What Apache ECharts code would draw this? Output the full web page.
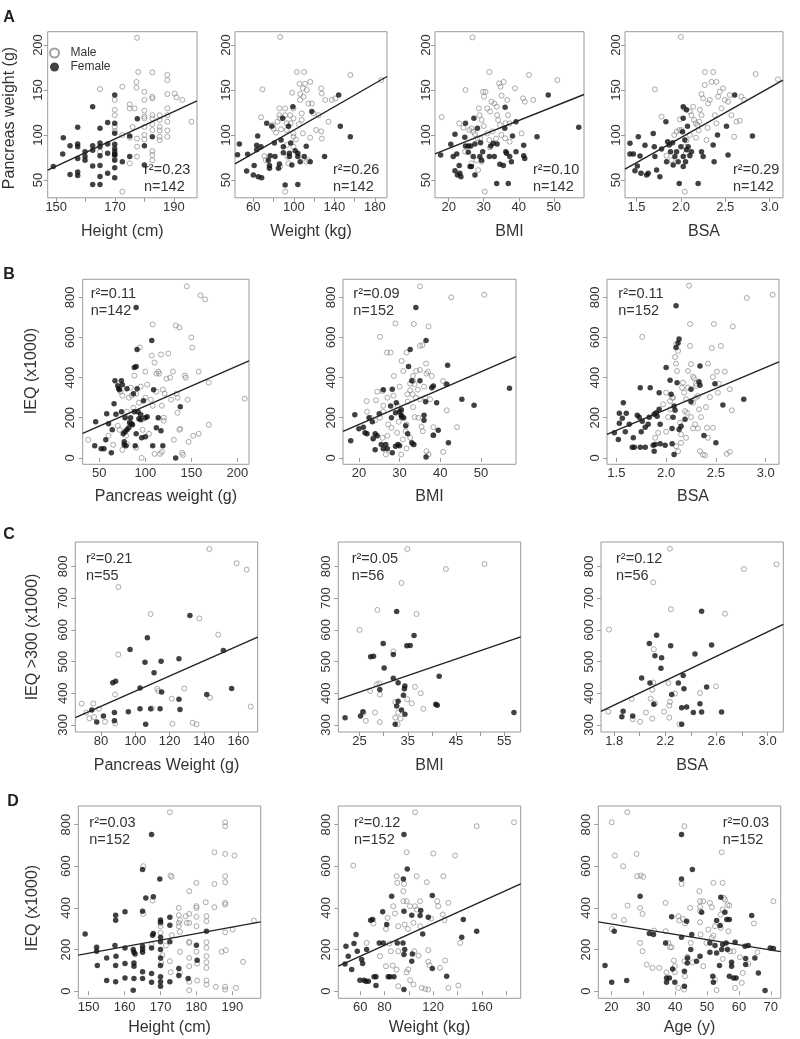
<!DOCTYPE html>
<html><head><meta charset="utf-8">
<script src="https://cdn.jsdelivr.net/npm/echarts@6/dist/echarts.min.js"></script>
<style>html,body{margin:0;padding:0;background:#fff}#c{width:800px;height:1039px}</style>
</head><body><div id="c"></div>
<script>
// ---------- DATA ----------
// Row A: pancreas weight (g) vs height / weight / BMI / BSA
const a1Female=[[149,65],[152.2,79],[152.4,97],[154.7,56],[154.7,88],[157.3,108.5],[157.3,90],[157.3,87],[157.3,74],[157.3,59],[157.3,55],[159.8,81.5],[159.8,76],[159.8,72],[162.4,131.5],[162.4,83],[162.4,65.5],[162.4,45],[162.4,88],[164.9,107.5],[164.9,87],[164.9,77],[164.9,66],[164.9,54],[164.9,45],[164.9,91],[167.5,114],[167.5,90],[167.5,79.6],[167.5,57.4],[169.9,85],[169.9,77.6],[169.9,144.4],[169.9,113],[169.9,102],[169.9,89.6],[169.9,81.5],[169.9,78.5],[169.9,72],[169.9,63.7],[169.9,52.6],[172.5,70.4],[175,99],[175,76],[177.6,118],[180,88],[180,66.7],[182.7,98]];
const a1Male=[[177.5,208],[177.9,170],[182.7,169.6],[187.8,166.7],[187.8,161],[172.5,153.7],[164.9,151],[169.9,139],[169.9,128],[169.9,122],[169.9,109],[169.9,104.4],[175,134],[175,129.6],[176,109],[176.7,129.6],[177.3,159],[177.3,152.6],[180,148],[180,139],[180,120.4],[180,118.5],[180,109],[182.7,142.6],[182.7,140.7],[182.7,122],[182.7,118.5],[182.7,105.5],[182.7,82],[182.7,77.8],[182.7,72],[185.2,122],[185.2,109],[185.2,98],[185.2,94.4],[187.8,145.5],[187.8,129.6],[187.8,122],[187.8,114.8],[187.8,98],[190.3,146],[190.9,141.9],[192.9,139],[196,114.8],[172.5,37],[177.5,87],[177.5,76],[175,68.5],[185.2,116.7],[169.9,74],[164.9,81.5],[180,95],[180,100],[177.5,96],[182.7,112],[185.2,105],[175,97],[172.5,100],[187.8,105],[180,127]];
const a1Line=[[147.1,61],[197.9,138]];
const a1Stat=['0.23',142];

const a2Female=[[44.5,78],[46.3,90],[53.5,60],[54.5,78.5],[60.9,66],[60.1,55.5],[63.4,88.5],[63.4,83.7],[64.4,99],[65,53.7],[68.3,52.6],[67.7,87],[73.3,113],[74.9,72],[76,66],[76,63],[76.7,77],[78.3,109.6],[80.9,91],[81.5,76],[84.9,63],[85.8,67.8],[87.5,94.4],[89.1,118.5],[89.7,87],[89.7,80.4],[91.5,44.4],[94.8,109.6],[95.7,79.6],[95.7,76],[97,91],[98.1,66.7],[99.1,131.5],[101.4,82.5],[104,79.6],[104,76],[104,45],[106.3,70.4],[110.3,76],[112.3,87.4],[116.2,70.4],[117.8,126],[130.4,76],[144.3,144.4],[145.9,109.6],[155.8,98]];
const a2Male=[[86.5,209],[67.7,119.6],[69.1,150.7],[71,76.7],[72.3,72],[79.2,111],[80,107],[82.5,102.6],[83.9,114.8],[85.8,129.6],[85.8,122],[86.5,118.5],[87.5,106.3],[91.5,129.6],[91.5,122],[93.1,113],[93.1,105.5],[93.1,88.9],[93.7,76],[94.8,68.5],[96.4,122],[97,113],[98.4,147],[99.7,129.6],[99.7,118.5],[99.7,101.8],[99.7,98],[103,170],[105.7,157],[106.3,145.5],[106.3,139],[107.9,124],[107.9,116.7],[109,151.9],[109.6,142.6],[109,101.8],[110.3,170],[111.2,157],[112.9,150],[114.5,135],[116.2,159],[117.8,135],[119.5,124],[116.2,97],[122.1,105.5],[124.4,122],[127.1,151.9],[127.7,146],[127.1,104],[131,139],[134.3,114.8],[127.7,96],[137.6,139],[141,140.7],[155.8,166.7],[186.4,161],[112.3,70.4],[114.4,72],[86.6,65],[91.5,37],[99.7,87],[105,112],[102,95]];
const a2Line=[[42,68],[192,165]];
const a2Stat=['0.26',142];

const a3Female=[[17.7,77.8],[20.6,89.6],[21.8,100.7],[21.3,76],[22.3,79],[21.8,60.4],[22.5,55.6],[23,66],[23.2,57.4],[23.5,53.7],[24.8,113],[24.6,97.4],[24.8,87.8],[25.6,87.8],[26.3,87.8],[25.6,80.7],[26.1,65],[26.5,65],[27,76],[27.2,118.5],[27.5,90],[27.5,55.6],[28.2,107.4],[28.9,76],[29.1,91.5],[29.4,72],[29.7,81.5],[31.6,76],[32,87.8],[32.7,90.7],[33,76],[33.7,46],[33.8,90],[34.6,67.4],[35.6,66],[36.1,130.7],[36,107.4],[36.3,81.5],[36.5,79.6],[37,46],[37.4,76],[37.9,70.4],[38.2,99],[39.2,81.5],[39.2,114.8],[41.4,88.5],[41.4,77],[41.7,74],[45.2,98],[48.4,144.4],[57.1,108.5]];
const a3Male=[[26.8,208.5],[24.8,150],[18,120],[23,113],[24.2,108],[24.7,81.5],[25.9,105.5],[26.5,107.4],[27,103.7],[28.2,96.3],[28.6,129.6],[28.8,122],[29.4,116.7],[29.8,148],[30.1,142.6],[30.5,148],[31.6,170],[31,129.6],[31.8,126],[32.2,137],[33,135],[33.7,131.5],[33.8,122],[34.1,116.7],[34.6,111],[34.4,157.4],[34.8,153.7],[35.1,143.7],[35.7,159],[36.1,96.3],[36.7,139],[36.9,122],[37.4,113],[38.9,151.9],[37.4,92.6],[40.8,101.8],[41.2,140.7],[41.7,137],[42.9,166.7],[44.1,139],[51,161],[30.3,37],[28,72],[29.4,70.4],[31,101.8],[31.6,94.4],[31.8,86.3],[26.5,68.5],[28.4,61],[30,110],[32.5,104],[33.5,96],[35,100],[36.2,113],[29,96],[27.5,101]];
const a3Line=[[16.1,79],[58.6,145]];
const a3Stat=['0.10',142];

const a4Female=[[1.426,90.7],[1.426,78.9],[1.464,78.9],[1.482,60.4],[1.509,65.6],[1.52,98],[1.539,76.7],[1.55,57.4],[1.595,88.5],[1.614,55.6],[1.632,57.4],[1.688,101.8],[1.7,87],[1.707,76],[1.726,61],[1.763,53.7],[1.782,84.4],[1.831,114.8],[1.838,70.4],[1.85,92.6],[1.868,89],[1.883,81.5],[1.906,91.5],[1.913,66.7],[1.932,76],[1.951,81.5],[1.969,70.4],[1.981,46],[2.0,87],[2.018,103.7],[2.026,118.5],[2.026,131.5],[2.026,76],[2.026,65],[2.044,94.4],[2.063,83.7],[2.052,70.4],[2.063,128],[2.074,109.6],[2.082,87],[2.101,77],[2.119,81.5],[2.194,46],[2.232,81.5],[2.25,76],[2.363,89],[2.374,70.4],[2.412,100],[2.513,109.6],[2.531,77.8],[2.606,144.4],[2.805,99]];
const a4Male=[[2.0,209],[1.707,150.7],[1.782,120.4],[1.838,77],[1.895,72],[1.925,100],[1.951,103.7],[1.981,105.5],[1.988,117.4],[2.037,129.6],[2.044,37],[2.063,94],[2.101,126],[2.119,122],[2.138,131.5],[2.149,116.7],[2.168,113],[2.187,111],[2.206,114.8],[2.213,128],[2.232,122],[2.232,145.5],[2.25,140.7],[2.269,170],[2.269,155.5],[2.288,94.4],[2.307,135],[2.325,139],[2.344,159],[2.363,170],[2.382,122],[2.4,159],[2.419,142.6],[2.438,148],[2.457,129.6],[2.475,151.9],[2.494,139],[2.531,137],[2.55,144.4],[2.569,122],[2.599,98],[2.625,114.8],[2.663,115.9],[2.681,142.6],[2.711,139],[2.842,167.8],[3.093,161.9],[2.044,87],[2.056,80],[2.007,105.5],[2.1,100],[2.17,97],[2.3,108],[2.4,113],[2.2,105]];
const a4Line=[[1.37,62],[3.15,161]];
const a4Stat=['0.29',142];

// Row B: IEQ (x1000) vs pancreas weight / BMI / BSA
const b1Female=[[45,60],[46,180],[52,45],[55,45],[57,90],[58,220],[60,170],[63,25],[64,140],[66,270],[68,218],[67,385],[70,360],[71,345],[72,340],[74,385],[75,365],[74,230],[76,120],[77,80],[77,65],[78,130],[78,200],[79,60],[80,140],[80,345],[82,150],[83,175],[84,200],[85,170],[86,165],[87,320],[88,450],[88,230],[89,60],[90,455],[90,120],[91,540],[91,345],[92,230],[93,195],[95,190],[95,215],[96,100],[98,285],[100,105],[100,200],[102,205],[107,585],[108,60],[109,340],[112,150],[114,200],[117,135],[119,60],[133,0],[138,255],[90,750]];
const b1Male=[[38,90],[60,110],[65,65],[70,160],[72,140],[75,40],[78,205],[79,110],[80,70],[82,300],[84,350],[85,310],[87,250],[88,410],[90,320],[90,50],[92,230],[93,275],[94,550],[95,355],[96,0],[97,140],[98,195],[100,300],[100,430],[102,365],[104,120],[106,290],[107,510],[108,260],[108,665],[110,475],[110,20],[112,330],[112,420],[114,430],[115,420],[116,20],[117,515],[118,30],[118,260],[119,340],[120,200],[120,185],[121,320],[123,395],[125,520],[127,400],[128,290],[130,430],[131,90],[133,660],[134,320],[135,300],[135,225],[137,650],[137,140],[138,145],[140,25],[141,15],[143,410],[144,400],[145,855],[146,290],[147,80],[150,600],[151,550],[152,110],[158,120],[158,430],[160,810],[165,790],[169,375],[169,165],[208,295],[73,330],[75,310],[80,230],[83,180]];
const b1Line=[[31.9,122],[212.7,483]];
const b1Stat=['0.11',142];

const b2Female=[[18,85],[19,215],[21.1,153],[21.5,125],[23.3,180],[20,145],[22,120],[22.5,200],[23.5,95],[24,120],[24.5,110],[25.5,67],[26.6,67],[28.2,25],[29,58],[29.6,67],[27.8,258],[28.2,342],[25,220],[26,340],[27,45],[28,200],[29,225],[29.2,275],[30,230],[30.5,205],[31,200],[30.4,213],[30.4,240],[32.2,455],[32.6,540],[33,385],[35,385],[36.5,585],[34,750],[37.9,350],[38.3,358],[39.1,275],[36.4,280],[41.6,367],[45.3,292],[48.3,262],[57,347],[41.8,462],[42,75],[39.5,138],[38.3,113],[36.5,5],[36,188],[36,212],[33.5,67],[33,75],[31.5,160],[32,120],[26,45],[24,40],[30,60]];
const b2Male=[[24,187],[21.9,283],[24.2,287],[25.2,603],[25.8,333],[26,260],[28.6,408],[26.9,525],[27.8,525],[29,670],[26.6,17],[23.6,100],[25.8,100],[29.4,125],[27.2,167],[25.2,200],[22.9,200],[30.5,483],[30.9,433],[30.4,233],[30.7,200],[30.8,92],[31.5,133],[30.4,17],[31.7,47],[35,855],[42.7,800],[50.8,813],[33.5,667],[37.1,655],[35,558],[35.6,562],[31.7,525],[34.1,433],[35,438],[36.6,420],[37.9,408],[33.3,408],[33.3,383],[33.7,367],[32.6,370],[32.6,337],[31.9,317],[33.2,317],[40.7,383],[41.4,367],[41.6,237],[44.1,153],[40.7,30],[37.1,17],[36.6,33],[34.6,200],[33.7,203],[35.4,155],[38.3,153],[38.3,113],[35.7,133],[33.3,67],[32.6,100],[31.7,167],[33.3,253],[35,292],[36.3,300],[37.5,292],[27,300],[28.5,310],[29.5,260],[28,150],[27,110],[29.8,180],[32,280],[34,300],[26,230],[22,230],[24.5,330],[30,355],[34.5,340],[36,355],[37,430],[36.5,470]];
const b2Line=[[16.1,132],[58.6,505]];
const b2Stat=['0.09',152];

const b3Female=[[1.48,125],[1.52,92],[1.53,172],[1.53,222],[1.56,197],[1.57,275],[1.59,130],[1.6,222],[1.63,167],[1.66,53],[1.67,100],[1.68,53],[1.71,213],[1.73,203],[1.74,53],[1.74,350],[1.75,130],[1.76,183],[1.79,53],[1.79,153],[1.82,167],[1.83,203],[1.84,350],[1.87,63],[1.88,33],[1.88,217],[1.89,67],[1.9,225],[1.91,208],[1.93,325],[1.93,242],[1.94,70],[1.94,167],[1.99,63],[2.0,450],[2.04,387],[2.05,317],[2.06,147],[2.06,70],[2.07,203],[2.08,17],[2.08,258],[2.09,237],[2.1,758],[2.1,550],[2.11,375],[2.12,572],[2.13,592],[2.13,142],[2.15,158],[2.19,192],[2.25,342],[2.25,280],[2.33,380],[2.34,362],[2.34,458],[2.38,112],[2.49,370],[2.5,75],[2.57,263],[2.78,292]];
const b3Male=[[1.76,603],[2.04,242],[2.04,283],[2.06,300],[2.09,503],[2.1,567],[2.1,470],[2.11,433],[2.12,533],[2.14,175],[2.15,117],[2.15,75],[2.17,375],[2.18,325],[2.19,233],[2.2,292],[2.2,100],[2.21,225],[2.22,433],[2.23,858],[2.24,558],[2.24,667],[2.25,203],[2.27,405],[2.27,147],[2.28,397],[2.29,167],[2.3,370],[2.3,358],[2.32,147],[2.32,308],[2.34,33],[2.35,203],[2.37,17],[2.39,12],[2.4,253],[2.42,470],[2.44,303],[2.46,547],[2.47,403],[2.48,667],[2.51,430],[2.55,558],[2.59,430],[2.61,20],[2.64,30],[2.64,342],[2.66,237],[2.67,655],[2.81,797],[3.07,813],[2.0,130],[2.02,203],[2.07,300],[2.1,58],[2.12,33],[1.92,125],[1.97,267],[2.0,325],[1.89,100],[2.22,350],[2.25,467],[2.27,275],[2.3,300],[2.33,242],[2.41,150],[2.42,100],[2.47,150],[2.52,325],[2.53,370],[2.16,350]];
const b3Line=[[1.406,117],[3.134,478]];
const b3Stat=['0.11',152];

// Row C: IEQ >300 (x1000) vs pancreas weight / BMI / BSA
const c1Female=[[74.6,347],[77.5,309],[81.4,328],[86.8,433],[88.5,438],[87.8,339],[87.8,313],[95.9,342],[96.9,538],[102.7,417],[102.7,351],[105.6,498],[106,302],[107,575],[108.9,351],[110.9,465],[115,501],[115.3,404],[114.4,351],[125.4,509],[125.4,381],[126,349],[131.8,645],[141.6,396],[151.3,535],[156.1,415]];
const c1Male=[[68.7,367],[71.3,339],[73.2,321],[75.5,368],[75.9,325],[78.8,351],[82.3,310],[88.2,396],[88.2,305],[90.1,522],[90.1,735],[108.9,650],[109.7,352],[112.8,414],[113.4,407],[121.2,383],[121.6,304],[128.5,415],[133.4,307],[135.7,302],[137.3,636],[143.1,855],[143.5,386],[148.3,585],[159,810],[164.9,790],[167.2,358]];
const c1Line=[[65,323],[171.3,577]];
const c1Stat=['0.21',55];

const c2Female=[[22,323],[25.2,328],[25.7,342],[27.3,515],[27.9,517],[29.9,557],[30.1,480],[29.2,412],[32,522],[32,447],[32.7,658],[32.4,302],[33,433],[33,375],[32.7,360],[33.7,347],[34.4,423],[34.3,414],[34.1,394],[34.4,334],[34.8,550],[35.5,551],[36.3,582],[41.5,454],[40.8,365],[41.1,362],[57,339]];
const c2Male=[[25,600],[25.8,339],[26.3,313],[27.2,407],[28.6,428],[29.1,431],[29.2,396],[28.2,339],[29.2,309],[28.7,663],[32,532],[32.4,372],[33,339],[32.4,323],[32.9,302],[34.9,855],[33.7,748],[36.8,650],[36.5,420],[37.7,400],[38.2,351],[34.9,381],[35.8,368],[42.9,792],[50.9,808],[33.5,320]];
const c2Line=[[20.6,381],[58.4,578]];
const c2Stat=['0.05',56];

const c3Female=[[1.86,326],[1.87,343],[1.945,328],[2.015,448],[2.075,557],[2.132,583],[2.119,518],[2.171,512],[2.166,479],[2.08,432],[2.11,365],[2.242,550],[2.302,432],[2.34,456],[2.346,414],[2.328,354],[2.367,357],[2.25,396],[2.328,302],[2.419,339],[2.471,367],[2.484,341],[2.523,420],[2.562,552],[2.64,341],[2.432,524],[2.484,659]];
const c3Male=[[1.76,601],[1.754,342],[1.937,382],[1.945,318],[2.002,310],[2.049,339],[2.085,383],[2.098,320],[2.106,434],[2.11,539],[2.098,411],[2.106,750],[2.119,368],[2.19,342],[2.224,432],[2.231,361],[2.236,373],[2.231,323],[2.236,856],[2.244,665],[2.276,399],[2.31,302],[2.471,401],[2.596,422],[2.667,651],[2.815,792],[3.07,807]];
const c3Line=[[1.697,343],[3.123,617]];
const c3Stat=['0.12',56];

// Row D: IEQ (x1000) vs height / weight / age
const d1Female=[[149,275],[152.2,211],[152.2,192],[152.4,123],[155,160],[155,51],[157.3,219],[157.5,365],[157.5,341],[157.6,168],[157.5,123],[157.5,45],[160.1,381],[160.1,208],[160.1,133],[160.1,64],[162.4,200],[162.6,187],[162.9,179],[162.6,136],[162.6,120],[162.6,61],[162.4,5],[165,584],[165,384],[165,216],[165,200],[165,187],[165,94],[165,61],[165.9,448],[167.5,752],[167.8,269],[168,277],[168,453],[167.5,208],[167.5,85],[167.5,43],[169.8,539],[170,342],[170,331],[170,259],[170,237],[170,200],[170,160],[170,123],[170,69],[170,45],[170,24],[172.6,355],[172.6,317],[172.6,237],[172.6,45],[175.1,109],[175.1,75],[177.7,61],[180,221],[180.2,149],[182.8,288]];
const d1Male=[[172.6,859],[165.2,600],[165.2,371],[167.8,435],[170,325],[170,312],[170,280],[170.5,173],[170.2,136],[171.5,219],[172.8,555],[173.1,549],[173.1,269],[172.8,91],[175.1,400],[175.1,365],[175.4,341],[175.1,328],[175.4,285],[175.4,189],[175.4,88],[177,360],[177.3,328],[178,480],[178,371],[178,328],[178,237],[178,232],[178,160],[178,120],[178,45],[178,5],[180,520],[180,408],[180,400],[180,357],[180,312],[180,189],[180.2,133],[180.2,51],[182.6,427],[182.8,360],[182.8,336],[182.8,235],[182.8,208],[182.8,168],[182.8,139],[182.8,112],[182.8,51],[182.8,32],[185,515],[185,403],[185,667],[185.4,21],[187,189],[188,811],[188,792],[188,659],[188,552],[188,523],[188,424],[188,416],[188,283],[188.2,197],[188,21],[188,8],[190.1,296],[190.6,651],[191,16],[193,141],[196,339],[167.5,224],[172.6,144],[175.1,312]];
const d1Line=[[147.1,173],[197.9,333]];
const d1Stat=['0.03',152];

const d2Female=[[47.5,131],[48.3,216],[50.2,168],[53,104],[54.9,229],[56.6,272],[57.6,192],[59.8,53],[61.2,152],[62,133],[63.1,53],[64.7,48],[65.3,200],[66.7,48],[68.6,341],[70.3,344],[71.4,69],[73,69],[73,27],[75.7,232],[78.5,381],[79,232],[81.8,320],[83.1,69],[84.5,69],[85.9,456],[87.8,69],[90.5,232],[96,752],[98.7,587],[95.5,539],[96,384],[102.4,365],[109.8,387],[119.3,459],[144.8,344],[143.5,259],[155.8,288],[131.1,72],[119.3,109],[111.4,275],[102.4,144],[96,8],[96,176],[96.6,200],[95.2,232],[102.9,179],[116,355],[109.3,363]];
const d2Male=[[54.3,603],[65.3,232],[70.9,325],[76.3,168],[81.2,120],[81.2,299],[82.6,352],[84,229],[85.2,192],[86.8,123],[87.2,408],[88.6,373],[90,552],[90.5,520],[91.3,312],[91.3,192],[90,104],[91.3,24],[105.1,859],[155.8,792],[186.5,811],[120.1,661],[138,651],[98.2,667],[106.5,552],[128.4,552],[96,515],[114.7,523],[95.5,480],[95.5,432],[98.2,432],[100.9,408],[105.1,408],[106.5,392],[109.3,432],[123.4,432],[124.2,408],[132.5,424],[127.9,368],[129.3,341],[118.2,349],[109.3,312],[103.8,328],[96.6,320],[99.3,299],[104.4,192],[108,171],[116,197],[116,141],[117,125],[125.6,112],[129.9,147],[132.5,16],[140.7,27],[142.2,232],[116,8],[113.5,11],[110.6,16],[103.8,32],[101.1,53],[98.2,91],[99.6,104]];
const d2Line=[[42,120],[192,515]];
const d2Stat=['0.12',152];

const d3Female=[[18,123],[20.1,43],[20.9,288],[24.8,51],[29,456],[31.9,277],[33.2,272],[37,232],[37.3,64],[37.3,43],[38.2,64],[38.9,357],[39.2,107],[39.9,43],[42,752],[42,539],[42,259],[42.9,96],[42.9,24],[43.6,336],[43.8,136],[43.9,160],[44.9,200],[45.2,272],[45.4,584],[46.7,144],[47.8,168],[48.3,379],[50.9,232],[50.9,187],[51.8,72],[52,43],[52.5,219],[53,339],[53,184],[53.9,123],[54.1,315],[54.3,451],[54.6,200],[54.9,224],[55.6,379],[56,232],[56.2,344],[56.4,200],[57,344],[57,72],[57.7,139],[57.7,120],[58.3,64],[58.8,235],[59.1,64],[61.9,216],[62.1,157],[62.1,128],[62.9,219],[64,363],[65,160],[66.1,88],[68.2,3],[69.8,208],[70.8,205]];
const d3Male=[[20.1,811],[21.1,651],[25,859],[23.7,600],[20.9,360],[20.1,299],[23.9,341],[25.1,411],[27.9,659],[28.1,552],[29.2,555],[30,549],[29,400],[29.8,371],[29,232],[29.8,192],[31.1,128],[32.9,112],[35,112],[33.4,291],[37,424],[37,288],[37.3,91],[37.9,232],[38.4,211],[38.9,211],[39.6,147],[39.9,120],[39.9,91],[41,360],[41.3,339],[41,16],[42,515],[42.4,347],[43.1,325],[42.8,8],[42.9,792],[42.9,144],[43.1,72],[43.8,165],[44.7,400],[44.9,232],[45.5,139],[47.6,480],[47.8,432],[48.8,432],[47.8,405],[47.8,384],[47.8,331],[48,272],[48.8,120],[50.4,296],[50.9,424],[51.5,403],[52,520],[52.5,312],[52,267],[51.5,256],[52.5,56],[53,5],[54.6,667],[54.9,520],[54.3,368],[54.3,304],[54.9,155],[55.3,448],[55.6,440],[56.4,416],[56.7,288],[57,411],[57.2,192],[58.3,192],[58.8,16],[60.3,163],[60.9,40],[61.2,88],[62.9,131],[64.7,325],[65.8,187],[70.8,432],[54.9,392],[49.8,232]];
const d3Line=[[15.9,333],[73.1,190]];
const d3Stat=['0.03',152];

// tick values
const tHeight=[150,160,170,180,190], lHeightA=[150,170,190], lHeightD=[150,160,170,180,190];
const tWeight=[60,80,100,120,140,160,180], lWeightA=[60,100,140,180], lWeightD=[60,80,120,160];
const tBMI=[20,30,40,50], tBSA=[1.5,2.0,2.5,3.0];
const tPW=[50,100,150,200];
const tPWc=[80,100,120,140,160];
const tBMIc=[25,30,35,40,45,50,55], lBMIc=[25,35,45,55];
const tBSAc=[1.8,2.0,2.2,2.4,2.6,2.8,3.0], lBSAc=[1.8,2.2,2.6,3.0];
const tAge=[20,30,40,50,60,70];
const tPancY=[50,100,150,200];
const tIEQ=[0,200,400,600,800];
const tIEQc=[300,400,500,600,700,800];

// ---------- LAYOUT ----------
const rowA={top:31.7,h:166.1,y:[30.2,214.8],yt:tPancY,ym:2.5};
const rowB={top:279.3,h:185,y:[-32,890],yt:tIEQ,ym:5.5};
const rowC={top:542,h:190,y:[277.8,877.2],yt:tIEQc,ym:5.5};
const rowD={top:806,h:192.3,y:[-34,889],yt:tIEQ,ym:5.5};
const panels=[
 {row:rowA,left:47.7,w:149.3,x:[147.1,197.9],xt:tHeight,xl:lHeightA,m:a1Male,f:a1Female,ln:a1Line,st:a1Stat,sp:[144,170],title:'Height (cm)'},
 {row:rowA,left:235,w:152,x:[42,192],xt:tWeight,xl:lWeightA,m:a2Male,f:a2Female,ln:a2Line,st:a2Stat,sp:[333,170],title:'Weight (kg)'},
 {row:rowA,left:435,w:149,x:[16.1,58.6],xt:tBMI,xl:tBMI,m:a3Male,f:a3Female,ln:a3Line,st:a3Stat,sp:[533,170],title:'BMI'},
 {row:rowA,left:625,w:158,x:[1.37,3.15],xt:tBSA,xl:tBSA,dec:1,m:a4Male,f:a4Female,ln:a4Line,st:a4Stat,sp:[733,170],title:'BSA'},
 {row:rowB,left:82.7,w:166.3,x:[31.9,212.7],xt:tPW,xl:tPW,m:b1Male,f:b1Female,ln:b1Line,st:b1Stat,sp:[90.7,294.3],title:'Pancreas weight (g)'},
 {row:rowB,left:343,w:173,x:[16.1,58.6],xt:tBMI,xl:tBMI,m:b2Male,f:b2Female,ln:b2Line,st:b2Stat,sp:[353.3,294.3],title:'BMI'},
 {row:rowB,left:607,w:172,x:[1.406,3.134],xt:tBSA,xl:tBSA,dec:1,m:b3Male,f:b3Female,ln:b3Line,st:b3Stat,sp:[618.3,294.3],title:'BSA'},
 {row:rowC,left:75.3,w:182.4,x:[65,171.3],xt:tPWc,xl:tPWc,m:c1Male,f:c1Female,ln:c1Line,st:c1Stat,sp:[86,559.3],title:'Pancreas Weight (g)'},
 {row:rowC,left:338.3,w:182.4,x:[20.6,58.4],xt:tBMIc,xl:lBMIc,m:c2Male,f:c2Female,ln:c2Line,st:c2Stat,sp:[351.7,559.3],title:'BMI'},
 {row:rowC,left:601,w:182.3,x:[1.697,3.123],xt:tBSAc,xl:lBSAc,dec:1,m:c3Male,f:c3Female,ln:c3Line,st:c3Stat,sp:[616,559.3],title:'BSA'},
 {row:rowD,left:78.3,w:182.4,x:[147.1,197.9],xt:tHeight,xl:lHeightD,m:d1Male,f:d1Female,ln:d1Line,st:d1Stat,sp:[89.3,823.3],title:'Height (cm)'},
 {row:rowD,left:338.3,w:182.4,x:[42,192],xt:tWeight,xl:lWeightD,m:d2Male,f:d2Female,ln:d2Line,st:d2Stat,sp:[354,823.3],title:'Weight (kg)'},
 {row:rowD,left:598.3,w:182.4,x:[15.9,73.1],xt:tAge,xl:tAge,m:d3Male,f:d3Female,ln:d3Line,st:d3Stat,sp:[722.7,823.3],title:'Age (y)'}
];
const xTitleY=[232,497,766,1028];
const rows=[rowA,rowB,rowC,rowD];

const FONT="'Liberation Sans', Arial, Helvetica, sans-serif";
const TXT='#333';
const BOX='#9a9a9a';
const grids=[],xAxes=[],yAxes=[],series=[],graphics=[];
panels.forEach((p,i)=>{
  const r=p.row;
  grids.push({left:p.left,top:r.top,width:p.w,height:r.h,show:true,borderColor:BOX,borderWidth:1,backgroundColor:'transparent'});
  xAxes.push({type:'value',gridIndex:i,min:p.x[0],max:p.x[1],
    axisLine:{show:false},splitLine:{show:false},
    axisTick:{show:true,length:4,lineStyle:{color:BOX},customValues:p.xt},
    axisLabel:{customValues:p.xl,margin:3,fontSize:13,color:TXT,fontFamily:FONT,
      formatter:v=>p.dec?Number(v).toFixed(p.dec):String(v)}});
  yAxes.push({type:'value',gridIndex:i,min:r.y[0],max:r.y[1],
    axisLine:{show:false},splitLine:{show:false},
    axisTick:{show:true,length:4,lineStyle:{color:BOX},customValues:r.yt},
    axisLabel:{customValues:r.yt,rotate:90,margin:r.ym,fontSize:13,color:TXT,fontFamily:FONT}});
  series.push({type:'scatter',name:'Male',xAxisIndex:i,yAxisIndex:i,data:p.m,symbol:'circle',symbolSize:5,
    itemStyle:{color:'rgba(255,255,255,0)',borderColor:'#8a8a8a',borderWidth:0.9},silent:true,z:2,animation:false});
  series.push({type:'scatter',name:'Female',xAxisIndex:i,yAxisIndex:i,data:p.f,symbol:'circle',symbolSize:5.5,
    itemStyle:{color:'#111'},silent:true,z:3,animation:false});
  series.push({type:'line',xAxisIndex:i,yAxisIndex:i,data:p.ln,showSymbol:false,symbol:'none',
    lineStyle:{color:'#222',width:1.4},silent:true,z:4,animation:false});
  // stats text
  graphics.push({type:'text',x:p.sp[0],y:p.sp[1],style:{text:'r\u00B2='+p.st[0],fontSize:14.5,fontFamily:FONT,fill:TXT,align:'left',verticalAlign:'middle'}});
  graphics.push({type:'text',x:p.sp[0],y:p.sp[1]+17,style:{text:'n='+p.st[1],fontSize:14.5,fontFamily:FONT,fill:TXT,align:'left',verticalAlign:'middle'}});
  // x title
  graphics.push({type:'text',x:p.left+p.w/2,y:xTitleY[rows.indexOf(r)],style:{text:p.title,fontSize:16,fontFamily:FONT,fill:TXT,align:'center',verticalAlign:'middle'}});
});
const yTitles=[['Pancreas weight (g)',10,118],['IEQ (x1000)',32,371],['IEQ >300 (x1000)',33,637],['IEQ (x1000)',33,908]];
yTitles.forEach(t=>graphics.push({type:'text',x:t[1],y:t[2],rotation:Math.PI/2,style:{text:t[0],fontSize:16,fontFamily:FONT,fill:TXT,align:'center',verticalAlign:'middle'}}));
const letters=[['A',9,18],['B',9,275],['C',9,535],['D',13,802]];
letters.forEach(t=>graphics.push({type:'text',x:t[1],y:t[2],style:{text:t[0],fontSize:16,fontWeight:'bold',fontFamily:FONT,fill:'#222',align:'center',verticalAlign:'middle'}}));

const chart=echarts.init(document.getElementById('c'),null,{renderer:'canvas'});
chart.setOption({
  animation:false,
  grid:grids,xAxis:xAxes,yAxis:yAxes,series:series,
  legend:{data:['Male','Female'],orient:'vertical',left:44,top:41,itemWidth:22,itemHeight:9,itemGap:0,
    selectedMode:false,textStyle:{fontSize:12,color:TXT,fontFamily:FONT,lineHeight:14}},
  graphic:{elements:graphics}
});
</script></body></html>
